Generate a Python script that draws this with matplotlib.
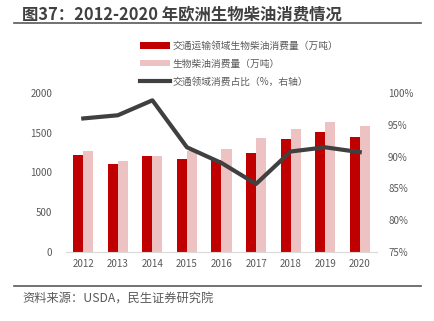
import matplotlib
matplotlib.use('Agg')
import matplotlib.pyplot as plt
import numpy as np

plt.rcParams['font.family'] = ['Noto Sans CJK SC', 'DejaVu Sans']

years = ['2012', '2013', '2014', '2015', '2016', '2017', '2018', '2019', '2020']
transport = [1216, 1107, 1203, 1174, 1161, 1241, 1417, 1510, 1447]
total = [1270, 1140, 1212, 1272, 1300, 1438, 1551, 1640, 1585]
share = [96.0, 96.5, 98.85, 91.46, 89.0, 85.7, 90.8, 91.46, 90.7]

red = '#C00000'
pink = '#EDC2C2'
dark = '#404040'
txt = '#595959'

fig = plt.figure(figsize=(4.34, 3.21), dpi=100)
ax = fig.add_axes([66/434, 1-252/321, (377-66)/434, (252-93)/321])
ax2 = ax.twinx()

x = np.arange(len(years))
w = 0.29
b1 = ax.bar(x - w/2, transport, w, color=red, label='交通运输领域生物柴油消费量（万吨）', zorder=2)
b2 = ax.bar(x + w/2, total, w, color=pink, label='生物柴油消费量（万吨）', zorder=2)
l1, = ax2.plot(x, share, color=dark, lw=3, label='交通领域消费占比（%，右轴）', zorder=3)

ax.set_xlim(-0.5, len(years) - 0.5)
ax.set_ylim(0, 2000)
ax.set_yticks([0, 500, 1000, 1500, 2000])
ax2.set_ylim(75, 100)
ax2.set_yticks([75, 80, 85, 90, 95, 100])
ax2.set_yticklabels([f'{v}%' for v in [75, 80, 85, 90, 95, 100]])
ax.set_xticks(x)
ax.set_xticklabels(years)

for a in (ax, ax2):
    for s in a.spines.values():
        s.set_visible(False)
    a.tick_params(length=0, labelsize=7, colors=txt)
ax.spines['bottom'].set_visible(True)
ax.spines['bottom'].set_color('#D9D9D9')
ax.tick_params(axis='y', pad=10)
ax2.tick_params(axis='y', pad=8)
ax.tick_params(axis='x', pad=5)

ax2.set_zorder(ax.get_zorder() + 1)

leg = fig.legend([b1, b2, l1], [b1.get_label(), b2.get_label(), l1.get_label()],
                 loc='upper left', bbox_to_anchor=(136/434, 1-37/321), frameon=False,
                 fontsize=7, labelcolor=txt, handlelength=3.1, handleheight=0.6,
                 labelspacing=0.8, handletextpad=0.3, borderaxespad=0)

fig.text(22/434, 1-14/321, '图37：2012-2020 年欧洲生物柴油消费情况', fontsize=11.8,
         fontweight='bold', color='#404040', va='center', ha='left')
fig.add_artist(plt.Line2D([14/434, 421/434], [1-23/321, 1-23/321], color='#595959', lw=1.2))
fig.add_artist(plt.Line2D([14/434, 421/434], [1-286/321, 1-286/321], color='#595959', lw=1.2))
fig.text(22/434, 1-299/321, '资料来源：USDA，民生证券研究院', fontsize=8.8, color=txt,
         va='center', ha='left')

fig.savefig('out.png', dpi=100)
